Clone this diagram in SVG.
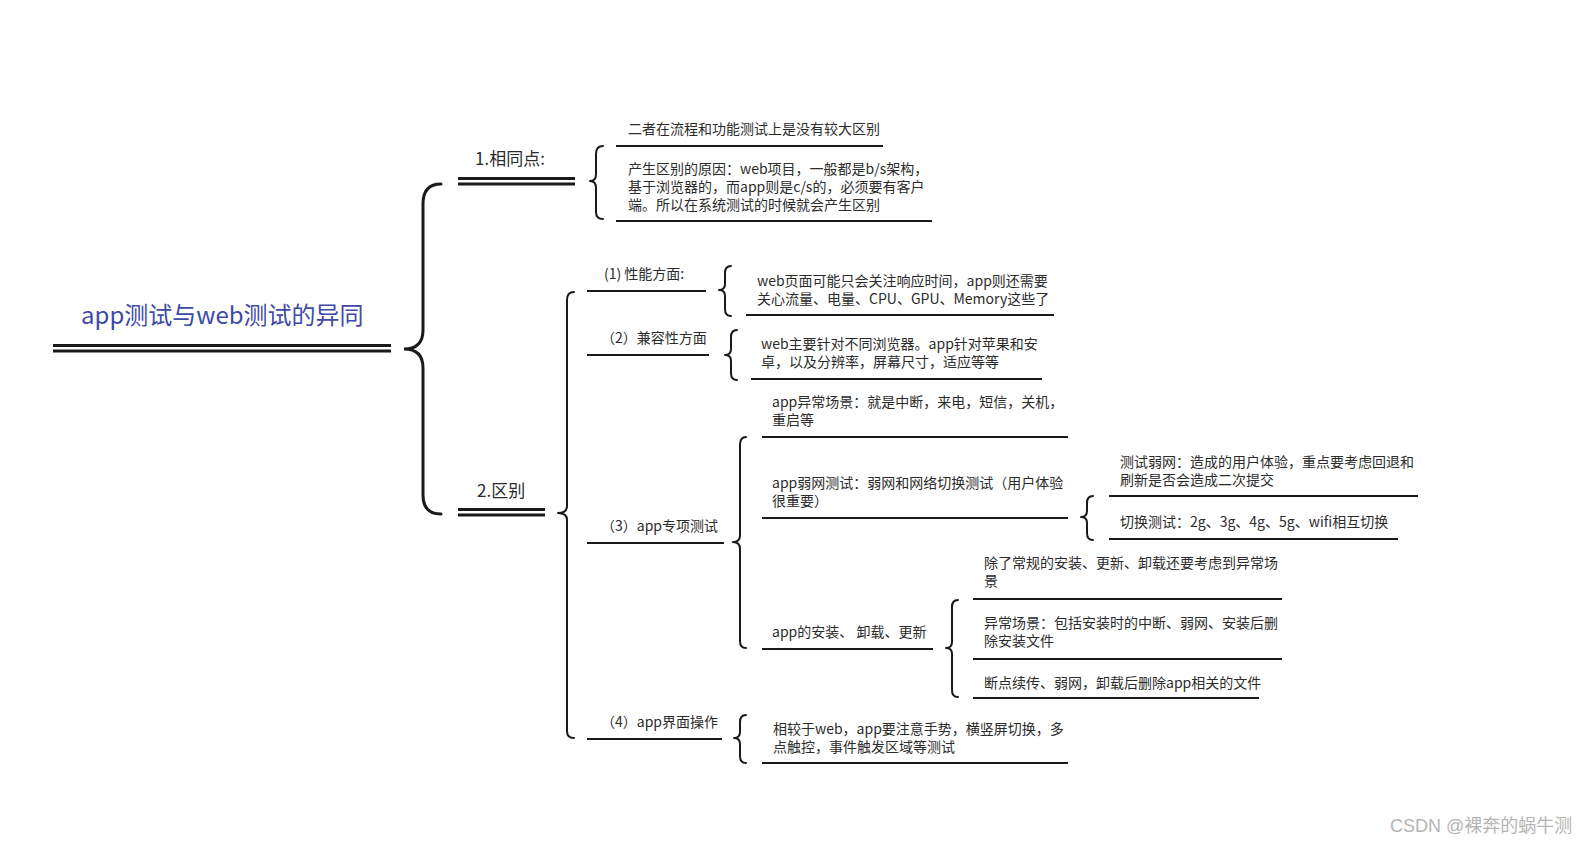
<svg xmlns="http://www.w3.org/2000/svg" width="1576" height="848" viewBox="0 0 1576 848">
<style>
text{font-family:"Noto Sans CJK SC","Liberation Sans",sans-serif;fill:#2b2b2b;font-size:14px}
.t{font-size:24px;fill:#3e4aa6}
.h{font-size:17px}
.ln{stroke:#1a1a1a;stroke-width:2;fill:none}
.dl{stroke:#1a1a1a;stroke-width:3;fill:none}
.br{stroke:#1a1a1a;stroke-width:2;fill:none;stroke-linecap:round;stroke-linejoin:round}
.bb{stroke:#1a1a1a;stroke-width:3;fill:none;stroke-linecap:round}
.wm{font-family:"Liberation Sans","Noto Sans CJK SC",sans-serif;font-size:18px;fill:#b5b5b5}
</style>
<rect width="1576" height="848" fill="#fff"/>
<g id="connectors">
<path class="bb" d="M441,184 Q423,184 423,204 L423,330 Q423,349 404,349 Q423,349 423,368 L423,495 Q423,514 441,514"/>
<path class="br" d="M603,146 Q596,146 596,154 L596,174 Q596,181 590,181 Q596,181 596,188 L596,212 Q596,219 603,219"/>
<path class="br" d="M574,292 Q567,292 567,300 L567,506 Q567,513 558,513 Q567,513 567,520 L567,731 Q567,738 574,738"/>
<path class="br" d="M731,266 Q725,266 725,273 L725,284 Q725,290 719,290 Q725,290 725,296 L725,309 Q725,316 731,316"/>
<path class="br" d="M737,330 Q731,330 731,337 L731,349 Q731,355 725,355 Q731,355 731,361 L731,373 Q731,380 737,380"/>
<path class="br" d="M746,437 Q740,437 740,445 L740,535 Q740,542 733,542 Q740,542 740,549 L740,641 Q740,648 746,648"/>
<path class="br" d="M1093,496 Q1087,496 1087,503 L1087,511 Q1087,517 1081,517 Q1087,517 1087,523 L1087,533 Q1087,540 1093,540"/>
<path class="br" d="M958,600 Q952,600 952,607 L952,642 Q952,648 946,648 Q952,648 952,654 L952,690 Q952,697 958,697"/>
<path class="br" d="M746,715 Q740,715 740,722 L740,732 Q740,738 734,738 Q740,738 740,744 L740,756 Q740,763 746,763"/>
</g>
<g id="root">
<text class="t" x="81" y="324">app测试与web测试的异同</text>
<line class="dl" x1="53" y1="345.5" x2="391" y2="345.5"/>
<line class="dl" x1="53" y1="351" x2="391" y2="351"/>
</g>
<g id="n-same">
<text class="h" x="475" y="165">1.相同点:</text>
<line class="dl" x1="458" y1="178.5" x2="575" y2="178.5"/>
<line class="dl" x1="458" y1="184" x2="575" y2="184"/>
</g>
<g id="n-same-1">
<text x="628" y="134">二者在流程和功能测试上是没有较大区别</text>
<line class="ln" x1="616" y1="146" x2="883" y2="146"/>
</g>
<g id="n-same-2">
<text x="628" y="174">产生区别的原因：web项目，一般都是b/s架构，</text>
<text x="628" y="192">基于浏览器的，而app则是c/s的，必须要有客户</text>
<text x="628" y="210">端。所以在系统测试的时候就会产生区别</text>
<line class="ln" x1="616" y1="221" x2="932" y2="221"/>
</g>
<g id="n-diff">
<text class="h" x="477" y="497">2.区别</text>
<line class="dl" x1="458" y1="509.5" x2="545" y2="509.5"/>
<line class="dl" x1="458" y1="515" x2="545" y2="515"/>
</g>
<g id="n-perf">
<text x="604" y="279">(1) 性能方面:</text>
<line class="ln" x1="587" y1="291" x2="706" y2="291"/>
</g>
<g id="n-perf-1">
<text x="757" y="286">web页面可能只会关注响应时间，app则还需要</text>
<text x="757" y="304">关心流量、电量、CPU、GPU、Memory这些了</text>
<line class="ln" x1="746" y1="315" x2="1054" y2="315"/>
</g>
<g id="n-compat">
<text x="601" y="343">（2）兼容性方面</text>
<line class="ln" x1="587" y1="355" x2="709" y2="355"/>
</g>
<g id="n-compat-1">
<text x="761" y="349">web主要针对不同浏览器。app针对苹果和安</text>
<text x="761" y="367">卓，以及分辨率，屏幕尺寸，适应等等</text>
<line class="ln" x1="751" y1="379" x2="1042" y2="379"/>
</g>
<g id="n-special">
<text x="601" y="531">（3）app专项测试</text>
<line class="ln" x1="587" y1="543" x2="724" y2="543"/>
</g>
<g id="n-special-1">
<text x="772" y="407">app异常场景：就是中断，来电，短信，关机，</text>
<text x="772" y="425">重启等</text>
<line class="ln" x1="762" y1="437" x2="1068" y2="437"/>
</g>
<g id="n-special-2">
<text x="772" y="488">app弱网测试：弱网和网络切换测试（用户体验</text>
<text x="772" y="506">很重要）</text>
<line class="ln" x1="762" y1="518" x2="1068" y2="518"/>
</g>
<g id="n-weak-1">
<text x="1120" y="467">测试弱网：造成的用户体验，重点要考虑回退和</text>
<text x="1120" y="485">刷新是否会造成二次提交</text>
<line class="ln" x1="1109" y1="496" x2="1418" y2="496"/>
</g>
<g id="n-weak-2">
<text x="1120" y="527">切换测试：2g、3g、4g、5g、wifi相互切换</text>
<line class="ln" x1="1109" y1="539" x2="1398" y2="539"/>
</g>
<g id="n-install">
<text x="772" y="637">app的安装、 卸载、更新</text>
<line class="ln" x1="762" y1="649" x2="933" y2="649"/>
</g>
<g id="n-install-1">
<text x="984" y="568">除了常规的安装、更新、卸载还要考虑到异常场</text>
<text x="984" y="586">景</text>
<line class="ln" x1="973" y1="599" x2="1282" y2="599"/>
</g>
<g id="n-install-2">
<text x="984" y="628">异常场景：包括安装时的中断、弱网、安装后删</text>
<text x="984" y="646">除安装文件</text>
<line class="ln" x1="973" y1="659" x2="1282" y2="659"/>
</g>
<g id="n-install-3">
<text x="984" y="688">断点续传、弱网，卸载后删除app相关的文件</text>
<line class="ln" x1="973" y1="698" x2="1259" y2="698"/>
</g>
<g id="n-ui">
<text x="601" y="727">（4）app界面操作</text>
<line class="ln" x1="587" y1="739" x2="722" y2="739"/>
</g>
<g id="n-ui-1">
<text x="773" y="734">相较于web，app要注意手势，横竖屏切换，多</text>
<text x="773" y="752">点触控，事件触发区域等测试</text>
<line class="ln" x1="762" y1="763" x2="1068" y2="763"/>
</g>
<text class="wm" x="1390" y="832">CSDN @裸奔的蜗牛测</text>
</svg>
